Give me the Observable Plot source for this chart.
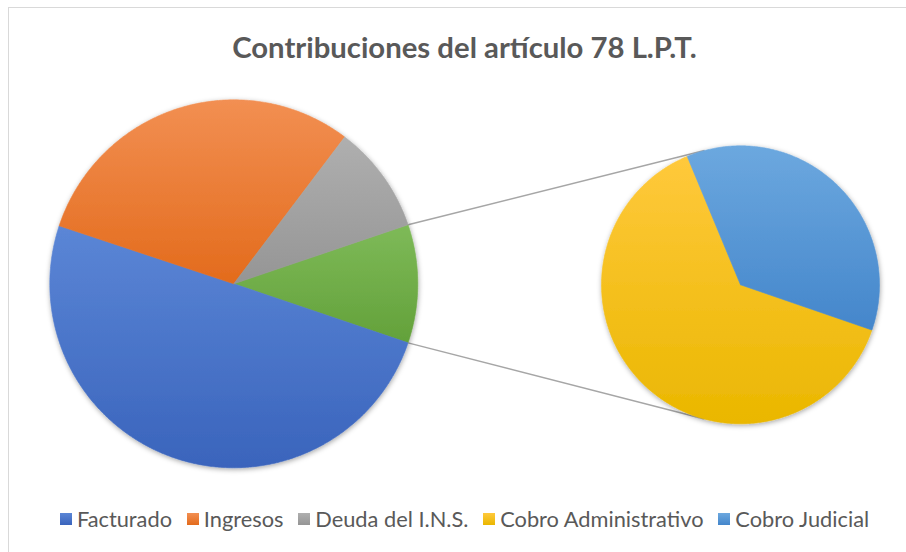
<!DOCTYPE html>
<html>
<head>
<meta charset="utf-8">
<script src="https://cdn.jsdelivr.net/npm/d3@7"></script>
<script src="https://cdn.jsdelivr.net/npm/@observablehq/plot@0.6"></script>
<style>
  body { margin: 0; background: #fff; }
  #wrap { position: relative; width: 906px; height: 552px; overflow: hidden; background: #fff; }
  #title { position: absolute; left: 8px; width: 913px; top: 32px; text-align: center;
           font: bold 29.3px/29.3px Lato, "Open Sans", sans-serif; color: #595959; white-space: nowrap; }
  #chart { position: absolute; left: 0; top: 80px; }
  #legend { position: absolute; left: 8px; width: 913px; top: 507.7px; display: flex; justify-content: center;
            align-items: center; font: 21.8px/21.8px Lato, "Open Sans", sans-serif; color: #595959; white-space: nowrap; }
  #legend .item { display: flex; align-items: center; margin: 0 7.4px; }
  #legend .sw { width: 12px; height: 12px; margin-right: 5px; }
  #frame { position: absolute; left: 8px; top: 7px; width: 913px; height: 560px; border: 1px solid #D9D9D9;
           box-sizing: border-box; pointer-events: none; }
</style>
</head>
<body>
<div id="wrap">
  <div id="title">Contribuciones del artículo 78 L.P.T.</div>
  <div id="chart"></div>
  <div id="legend"></div>
  <div id="frame"></div>
</div>
<script>
// ---- data (percent of total) ----
const mainCategories = ["Facturado", "Ingresos", "Deuda del I.N.S."];
const mainValues = [49.9, 30.2, 9.5];
const subCategories = ["Cobro Administrativo", "Cobro Judicial"];
const subValues = [6.6, 3.8];
const otherName = "Otro";

// ---- styles ----
const baseColors = {
  "Facturado": "#4472C4",
  "Ingresos": "#ED7D31",
  "Deuda del I.N.S.": "#A5A5A5",
  "Otro": "#70AD47",
  "Cobro Administrativo": "#FFC000",
  "Cobro Judicial": "#5B9BD5"
};
const gradStops = {
  "#4472C4": ["#5B86D6", "#3A64BC"],
  "#ED7D31": ["#F28F52", "#E36B1C"],
  "#A5A5A5": ["#AFAFAF", "#959595"],
  "#70AD47": ["#7EBA58", "#63A13A"],
  "#FFC000": ["#FFC93C", "#EAB700"],
  "#5B9BD5": ["#6CA8DF", "#4486CB"]
};

// ---- layout ----
const W = 906, H = 410;
const C1 = {x: 233.3, y: 203.3, r: 184};
const C2 = {x: 740, y: 204.3, r: 139};
const subStartDeg = 109;      // where the secondary pie starts (clockwise from 12 o'clock)
const connectorDeg = 15;      // connector attach angle on the secondary pie

const rad = Math.PI / 180;
const total = d3.sum(mainValues) + d3.sum(subValues);
const otherValue = d3.sum(subValues);

function arcPoints(name, c, a0, a1) {
  const pts = [{name, x: c.x, y: c.y}];
  const n = Math.max(2, Math.ceil(Math.abs(a1 - a0) / (0.5 * rad)));
  for (let i = 0; i <= n; i++) {
    const a = a0 + (a1 - a0) * i / n;
    pts.push({name, x: c.x + c.r * Math.sin(a), y: c.y - c.r * Math.cos(a)});
  }
  pts.push({name, x: c.x, y: c.y});
  return pts;
}

// main pie: "other" slice centered at 3 o'clock, then the rest clockwise
const otherSpan = otherValue / total * 2 * Math.PI;
const otherA0 = Math.PI / 2 - otherSpan / 2, otherA1 = Math.PI / 2 + otherSpan / 2;
let mainPts = arcPoints(otherName, C1, otherA0, otherA1);
let a = otherA1;
mainCategories.forEach((name, i) => {
  const span = mainValues[i] / total * 2 * Math.PI;
  mainPts = mainPts.concat(arcPoints(name, C1, a, a + span));
  a += span;
});

// secondary pie
let subPts = [];
let b = subStartDeg * rad;
subCategories.forEach((name, i) => {
  const span = subValues[i] / otherValue * 2 * Math.PI;
  subPts = subPts.concat(arcPoints(name, C2, b, b + span));
  b += span;
});

// connectors
const pt = (c, ang) => ({x: c.x + c.r * Math.sin(ang), y: c.y - c.r * Math.cos(ang)});
const p1 = pt(C1, otherA0), p2 = pt(C2, -connectorDeg * rad);
const p3 = pt(C1, otherA1), p4 = pt(C2, (180 + connectorDeg) * rad);
const connectors = [
  {x1: p1.x, y1: p1.y, x2: p2.x, y2: p2.y},
  {x1: p3.x, y1: p3.y, x2: p4.x, y2: p4.y}
];

const fillOf = d => baseColors[d.name];

const plot = Plot.plot({
  width: W, height: H, margin: 0,
  style: {background: "transparent", overflow: "visible"},
  x: {domain: [0, W], range: [0, W], axis: null},
  y: {domain: [0, H], range: [0, H], axis: null},
  marks: [
    Plot.link(connectors, {x1: "x1", y1: "y1", x2: "x2", y2: "y2", stroke: "#A6A6A6", strokeWidth: 1.5}),
    Plot.line(mainPts, {x: "x", y: "y", z: "name", fill: fillOf, stroke: fillOf, strokeWidth: 0.6, curve: "linear"}),
    Plot.line(subPts, {x: "x", y: "y", z: "name", fill: fillOf, stroke: fillOf, strokeWidth: 0.6, curve: "linear"})
  ]
});

// gradients + shadow
const svg = d3.select(plot);
const defs = svg.insert("defs", ":first-child");
const gradId = {};
Object.entries(gradStops).forEach(([hex, [c0, c1]], i) => {
  const id = "grad" + i;
  gradId[hex.toLowerCase()] = id;
  const g = defs.append("linearGradient").attr("id", id)
    .attr("x1", 0).attr("y1", 0).attr("x2", 0).attr("y2", 1);
  g.append("stop").attr("offset", "0%").attr("stop-color", c0);
  g.append("stop").attr("offset", "100%").attr("stop-color", c1);
});
const f = defs.append("filter").attr("id", "pieShadow")
  .attr("x", "-10%").attr("y", "-10%").attr("width", "120%").attr("height", "120%");
f.append("feDropShadow").attr("dx", 0.5).attr("dy", 1.5).attr("stdDeviation", 2.5)
  .attr("flood-color", "#000").attr("flood-opacity", 0.35);

svg.selectAll("g[aria-label='line']").attr("filter", "url(#pieShadow)");
svg.selectAll("g[aria-label='line'] path").each(function () {
  for (const attr of ["fill", "stroke"]) {
    const v = (this.getAttribute(attr) || "").toLowerCase();
    if (gradId[v]) this.setAttribute(attr, `url(#${gradId[v]})`);
  }
});
document.getElementById("chart").appendChild(plot);

// legend
const legendNames = mainCategories.concat(subCategories);
const legend = document.getElementById("legend");
legendNames.forEach(name => {
  const item = document.createElement("div");
  item.className = "item";
  const sw = document.createElement("span");
  sw.className = "sw";
  const [c0, c1] = gradStops[baseColors[name]];
  sw.style.background = `linear-gradient(${c0}, ${c1})`;
  const t = document.createElement("span");
  t.textContent = name;
  item.appendChild(sw);
  item.appendChild(t);
  legend.appendChild(item);
});
</script>
</body>
</html>
